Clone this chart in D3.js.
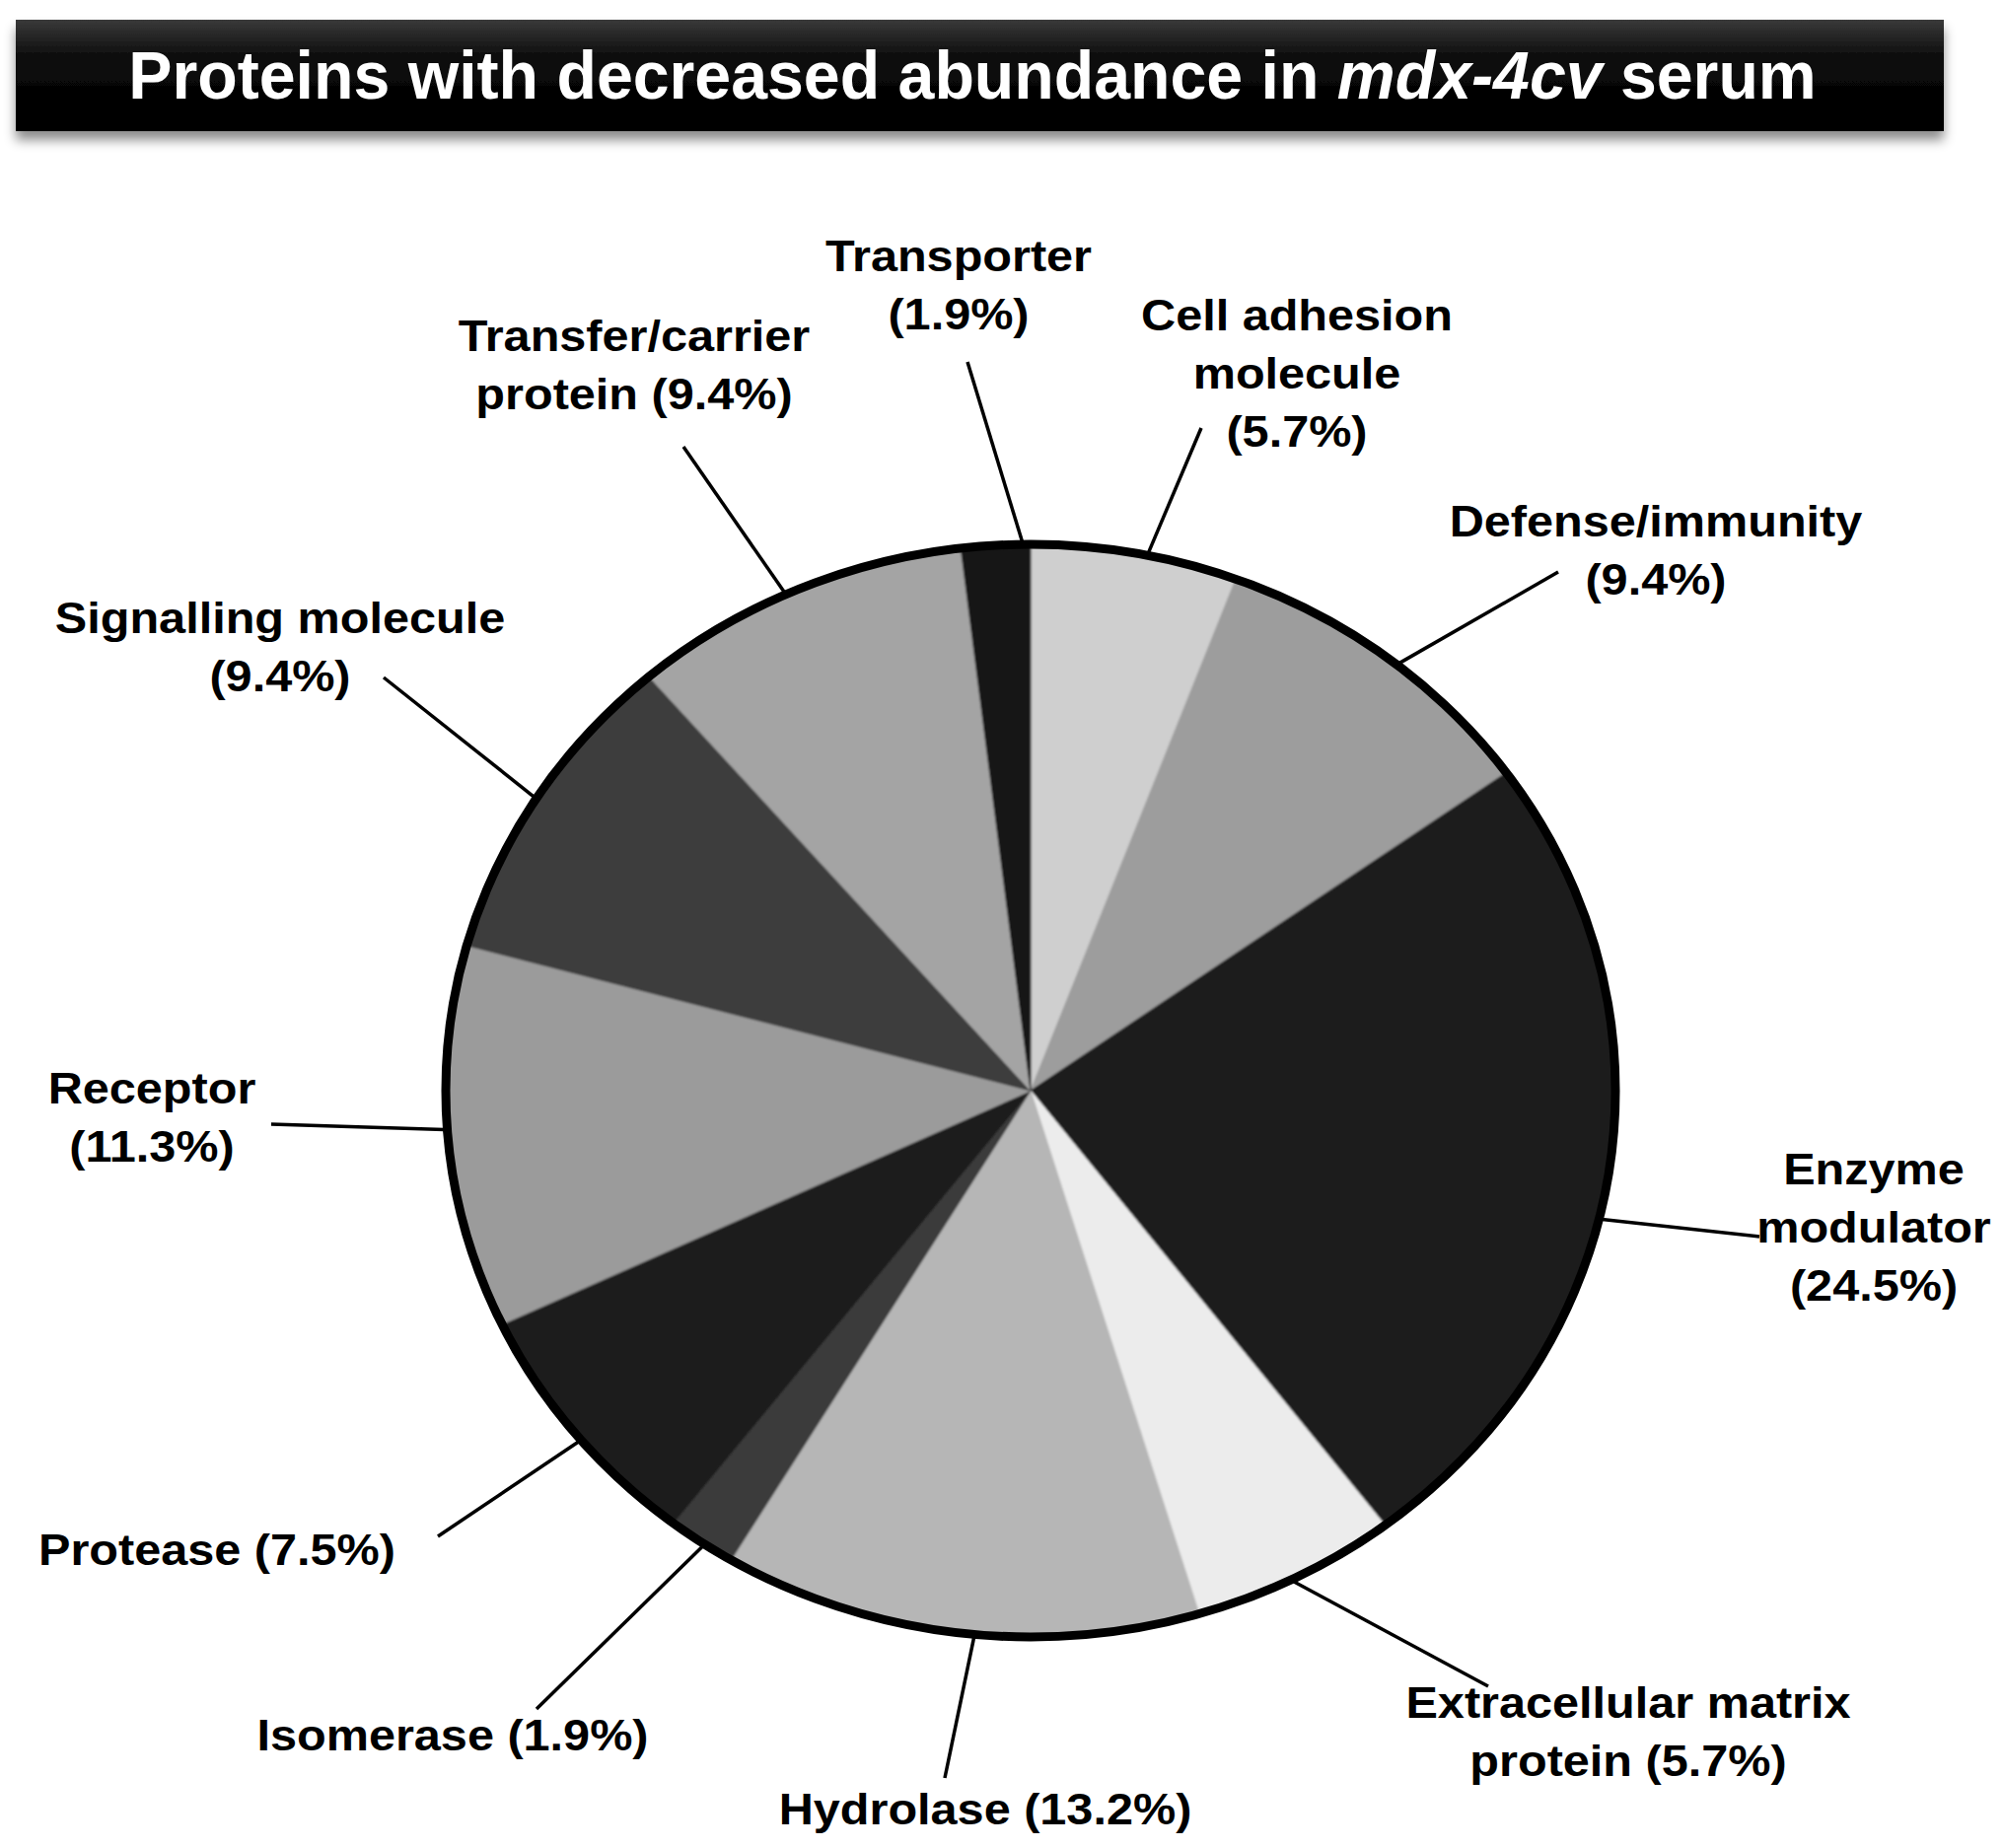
<!DOCTYPE html>
<html><head><meta charset="utf-8">
<script src="https://cdn.jsdelivr.net/npm/d3@7"></script>
<style>body{margin:0;background:#fff;} svg{display:block;}</style>
</head><body>
<svg id="chart" width="2031" height="1874"></svg>
<script>
// ---- data ----
const categories = ["Cell adhesion molecule","Defense/immunity","Enzyme modulator","Extracellular matrix protein","Hydrolase","Isomerase","Protease","Receptor","Signalling molecule","Transfer/carrier protein","Transporter"];
const percentages = [5.7, 9.4, 24.5, 5.7, 13.2, 1.9, 7.5, 11.3, 9.4, 9.4, 1.9];
const labelLines = [
  ["Cell adhesion","molecule","(#)"],
  ["Defense/immunity","(#)"],
  ["Enzyme","modulator","(#)"],
  ["Extracellular matrix","protein (#)"],
  ["Hydrolase (#)"],
  ["Isomerase (#)"],
  ["Protease (#)"],
  ["Receptor","(#)"],
  ["Signalling molecule","(#)"],
  ["Transfer/carrier","protein (#)"],
  ["Transporter","(#)"]
];
const sliceColors = ["#cfcfcf","#9d9d9d","#1a1a1a","#ececec","#b6b6b6","#3a3a3a","#1e1e1e","#9b9b9b","#3c3c3c","#a4a4a4","#141414"];
const titleText = ["Proteins with decreased abundance in ", "mdx-4cv", " serum"];

// ---- layout (label anchor, leader outer end, leader angle shift in degrees) ----
const labelPos = [[1315,335],[1679,544],[1900,1201],[1651,1742],[999,1850],[459,1775],[220,1587],[154,1119],[284,642],[643,356],[972,275]];
const leaderEnd = [[1218,434],[1580,580],[1784,1254],[1509,1710],[958,1803],[544,1733],[444,1558],[275,1140],[389,687],[693,453],[981,367]];
const leaderShift = [1.3,1.4,5,0.4,-1.5,-0.3,-0.9,0.9,0,-1,2.6];

const W = 2031, H = 1874;
const cx = 1045, cy = 1106, rx = 593, ry = 554;
const FONT = "'Liberation Sans', Arial, Helvetica, sans-serif";

const svg = d3.select("#chart");
const defs = svg.append("defs");

// title bar
const grad = defs.append("linearGradient").attr("id","barGrad").attr("x1",0).attr("y1",0).attr("x2",0).attr("y2",1);
grad.append("stop").attr("offset","0%").attr("stop-color","#3a3a3a");
grad.append("stop").attr("offset","35%").attr("stop-color","#0a0a0a");
grad.append("stop").attr("offset","100%").attr("stop-color","#000");
const shadow = defs.append("filter").attr("id","barShadow").attr("x","-5%").attr("y","-30%").attr("width","110%").attr("height","170%");
shadow.append("feDropShadow").attr("dx",0).attr("dy",9).attr("stdDeviation",6).attr("flood-color","#000").attr("flood-opacity",0.45);
const soft = defs.append("filter").attr("id","soft");
soft.append("feGaussianBlur").attr("stdDeviation",1.3);

svg.append("rect").attr("x",16).attr("y",20).attr("width",1955).attr("height",113)
  .attr("fill","url(#barGrad)").attr("filter","url(#barShadow)");

const title = svg.append("text").attr("text-anchor","middle")
  .attr("font-family",FONT).attr("font-weight","bold").attr("font-size",68).attr("fill","#fff");
titleText.forEach((t,i)=>{
  title.append("tspan").attr("font-style", i===1 ? "italic" : "normal").text(t);
});
title.attr("transform","translate(986,100)");
const tw = title.node().getBBox().width;
title.attr("transform",`translate(986,100) scale(${1712/tw},1)`);

// pie
const pie = d3.pie().sort(null).value(d=>d).startAngle(0).endAngle(2*Math.PI);
const arcs = pie(percentages);
const arcGen = d3.arc().innerRadius(0).outerRadius(rx);
const pieG = svg.append("g").attr("transform",`translate(${cx},${cy}) scale(1,${ry/rx})`);
pieG.append("g").attr("filter","url(#soft)")
  .selectAll("path").data(arcs).join("path")
  .attr("d",arcGen).attr("fill",(d,i)=>sliceColors[i])
  .attr("stroke",(d,i)=>sliceColors[i]).attr("stroke-width",1);
svg.append("ellipse").attr("cx",cx).attr("cy",cy).attr("rx",rx).attr("ry",ry)
  .attr("fill","none").attr("stroke","#000").attr("stroke-width",9);

// leaders
const edgeArc = d3.arc().innerRadius(rx+3).outerRadius(rx+3);
arcs.forEach((d,i)=>{
  const a = (d.startAngle + d.endAngle)/2 + leaderShift[i]*Math.PI/180;
  const p = edgeArc.centroid({startAngle:a, endAngle:a});
  const x0 = cx + p[0], y0 = cy + p[1]*(ry+3)/(rx+3);
  svg.append("line").attr("x1",x0).attr("y1",y0)
    .attr("x2",leaderEnd[i][0]).attr("y2",leaderEnd[i][1])
    .attr("stroke","#000").attr("stroke-width",3.5);
});

// labels
const LINE = 59, SX = 1.08;
arcs.forEach((d,i)=>{
  const t = svg.append("text").attr("text-anchor","middle")
    .attr("font-family",FONT).attr("font-weight","bold").attr("font-size",45).attr("fill","#000")
    .attr("transform",`translate(${labelPos[i][0]},${labelPos[i][1]}) scale(${SX},1)`);
  labelLines[i].forEach((ln,j)=>{
    t.append("tspan").attr("x",0).attr("y",j*LINE)
      .text(ln.replace("#", d.data.toFixed(1)+"%"));
  });
});
</script>
</body></html>
